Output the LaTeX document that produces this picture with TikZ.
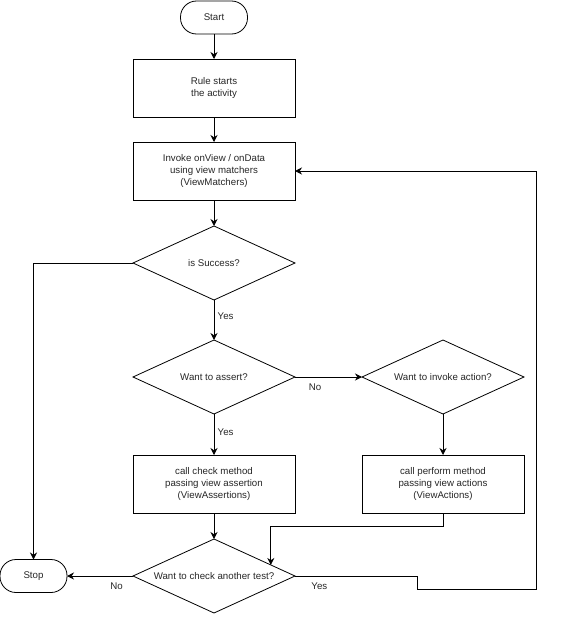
\documentclass[tikz,border=0pt]{standalone}
\usepackage{fontspec}
\setmainfont{Liberation Sans}
\usetikzlibrary{arrows.meta,positioning,shapes.geometric}

\begin{document}
\begin{tikzpicture}[x=1pt,y=1pt,line width=0.8pt,
		>={Stealth[length=7pt,width=7pt]},
		every node/.style={font=\fontsize{9.7}{12}\selectfont,align=center,text=black!85},
		term/.style={draw,rectangle,rounded corners=16pt,minimum width=67pt,minimum height=33pt,outer sep=0pt},
		proc/.style={draw,rectangle,minimum width=162pt,minimum height=58pt,outer sep=0pt},
		decide/.style={draw,diamond,aspect=2.2,minimum width=162pt,minimum height=74pt,inner sep=0pt,outer sep=0pt},
		lbl/.style={below,yshift=-3pt}]
		
		\useasboundingbox (0,0) rectangle (577,-629);
		
		\node[term] (start) at (214,-17.5) {Start};
		\node[proc,below=25pt of start] (rule) {Rule starts\\the activity};
		\node[proc,below=25pt of rule] (matchers) {Invoke onView / onData\\using view matchers\\(ViewMatchers)};
		\node[decide,below=26pt of matchers] (success) {is Success?};
		\node[decide,below=40pt of success] (assert) {Want to assert?};
		\node[decide,right=67pt of assert] (action) {Want to invoke action?};
		\node[proc,below=41pt of assert] (check) {call check method\\passing view assertion\\(ViewAssertions)};
		\node[proc,below=41pt of action] (perform) {call perform method\\passing view actions\\(ViewActions)};
		\node[decide,below=26pt of check] (another) {Want to check another test?};
		\node[term,left=66pt of another] (stop) {Stop};
		\coordinate (loop) at (536,-589);
		
		\draw[->] (start) -- (rule);
		\draw[->] (rule) -- (matchers);
		\draw[->] (matchers) -- (success);
		\draw[->] (success) -- node[pos=0.4,right] {Yes} (assert);
		\draw[->] (success.west) -| (stop.north);
		\draw[->] (assert) -- node[pos=0.3,lbl] {No} (action);
		\draw[->] (assert) -- node[pos=0.44,right] {Yes} (check);
		\draw[->] (action) -- (perform);
		\draw[->] (check) -- (another);
		\draw[->] (perform.south) -- ++(0,-13) -| (another.11.5);
		\draw[->] (another) -- node[pos=0.25,lbl] {No} (stop);
		\draw[->] (another.east) -- node[pos=0.2,lbl] {Yes} ++(122,0) |- (loop) |- (matchers.east);
\end{tikzpicture}
\end{document}
